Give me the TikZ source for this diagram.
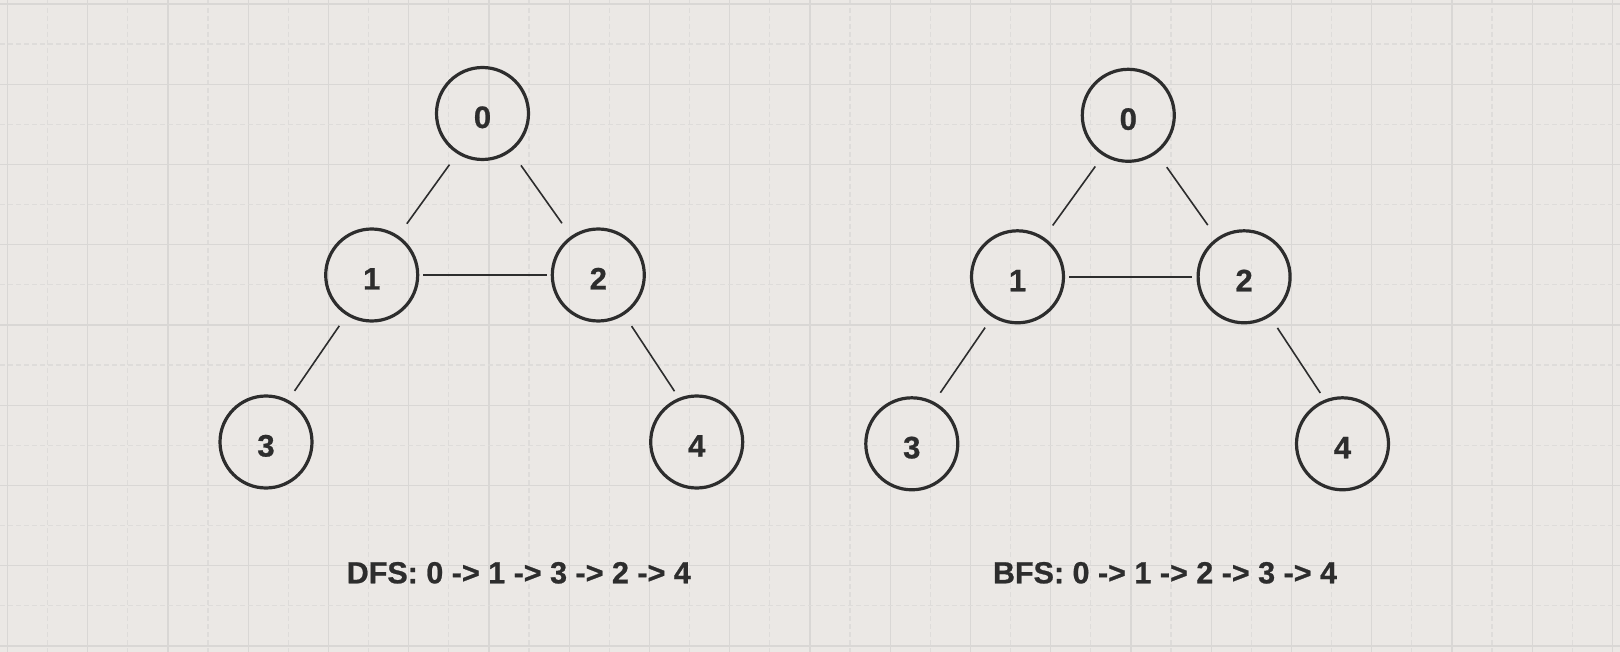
\documentclass[tikz,border=0pt]{standalone}
\usepackage{fontspec}
\setmainfont{Liberation Sans}[BoldFeatures={FakeBold=0.8}]
\usetikzlibrary{calc}
\definecolor{bg}{RGB}{235,232,229}
\definecolor{gridsolid}{RGB}{217,215,213}
\definecolor{griddash}{RGB}{222,220,218}
\definecolor{ink}{RGB}{45,45,45}
\tikzset{
  vnode/.style={circle, draw=ink, line width=3.2pt, minimum size=92pt, inner sep=0pt,
    text=ink, font=\fontsize{31}{31}\selectfont\bfseries, text height=29pt, text depth=0pt},
  edge/.style={draw=ink, line width=1.6pt},
  caption/.style={text=ink, font=\fontsize{30.5}{30.5}\selectfont\bfseries, anchor=base, inner sep=0pt},
  gsolid/.style={draw=gridsolid, line width=1.1pt},
  gdash/.style={draw=griddash, line width=1.1pt, dash pattern=on 5pt off 3pt}
}
\begin{document}
\begin{tikzpicture}[x=1pt,y=-1pt]
\useasboundingbox (0,0) rectangle (1620,652);
\fill[bg] (0,0) rectangle (1620,652);
% grid
\foreach \k in {0,...,20}{
  \draw[gdash] ({47.5+80.25*\k},0) -- ({47.5+80.25*\k},652);
  \draw[gsolid] ({7.5+80.25*\k},0) -- ({7.5+80.25*\k},652);
}
\foreach \k in {0,...,8}{
  \draw[gdash] (0,{44+80.25*\k}) -- (1620,{44+80.25*\k});
  \draw[gsolid] (0,{4+80.25*\k}) -- (1620,{4+80.25*\k});
}
% graphs
\foreach \p/\dx/\dy in {L/0/0, R/645.8/1.8}{
  \begin{scope}[shift={(\dx,\dy)}]
    \node[vnode] (\p0) at (482.5,113.5) {0};
    \node[vnode] (\p1) at (371.7,275) {1};
    \node[vnode] (\p2) at (598.3,275) {2};
    \node[vnode] (\p3) at (266,442) {3};
    \node[vnode] (\p4) at (696.7,442) {4};
    \draw[edge, shorten <=13.3pt, shorten >=14.6pt] (\p0.-122) -- (\p1.56);
    \draw[edge, shorten <=17pt, shorten >=15.6pt] (\p0.-53) -- (\p2.125);
    \draw[edge, shorten <=4.1pt, shorten >=4.1pt] (\p1.0) -- (\p2.180);
    \draw[edge, shorten <=12.7pt, shorten >=11pt] (\p1.-122) -- (\p3.62);
    \draw[edge, shorten <=13.4pt, shorten >=8pt] (\p2.-57) -- (\p4.112);
  \end{scope}
}
\node[caption] (dfs) at (518.8,583.3) {DFS: 0 -> 1 -> 3 -> 2 -> 4};
\node[caption] (bfs) at (1165,583.3) {BFS: 0 -> 1 -> 2 -> 3 -> 4};
\end{tikzpicture}
\end{document}
